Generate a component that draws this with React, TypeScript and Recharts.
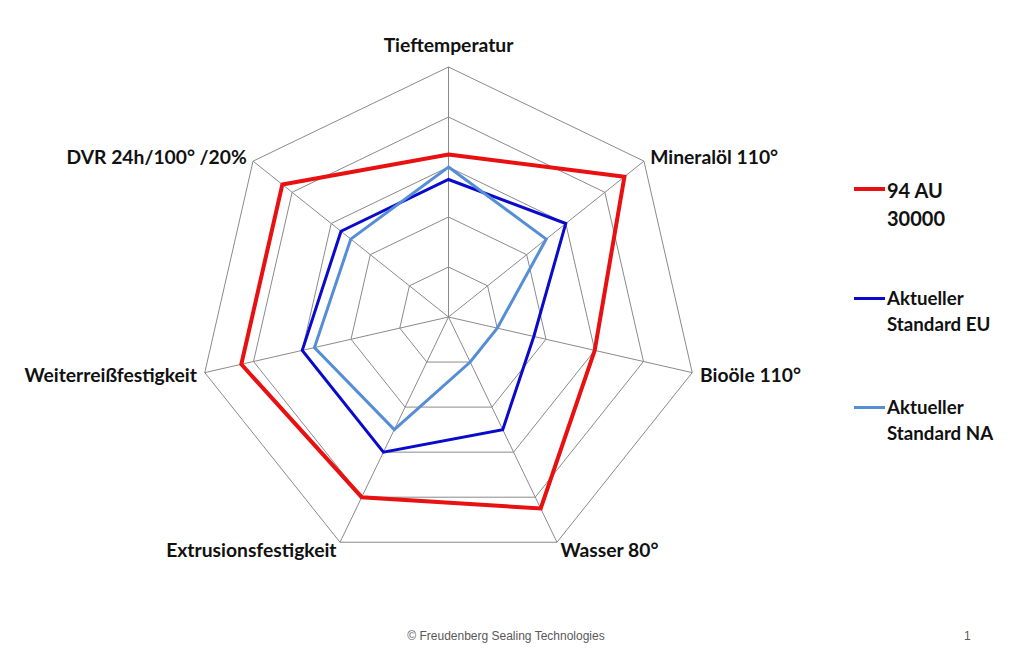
import { Legend, PolarAngleAxis, PolarGrid, PolarRadiusAxis, Radar, RadarChart } from "recharts";

const CATEGORIES = [
  "Tieftemperatur",
  "Mineralöl 110°",
  "Bioöle 110°",
  "Wasser 80°",
  "Extrusionsfestigkeit",
  "Weiterreißfestigkeit",
  "DVR 24h/100° /20%",
];

const AU_30000 = [3.25, 4.5, 3, 4.25, 4, 4.25, 4.25];
const STANDARD_EU = [2.75, 3, 1.75, 2.5, 3, 3, 2.75];
const STANDARD_NA = [3, 2.5, 1, 1, 2.5, 2.75, 2.5];

const SERIES = [
  { key: "au", name: "94 AU\n30000", values: AU_30000, color: "#E81010", width: 4, big: true },
  { key: "eu", name: "Aktueller\nStandard EU", values: STANDARD_EU, color: "#0A0ACC", width: 3, big: false },
  { key: "na", name: "Aktueller\nStandard NA", values: STANDARD_NA, color: "#558ED5", width: 3, big: false },
];

const data = CATEGORIES.map((name, i) => ({
  name,
  au: AU_30000[i],
  eu: STANDARD_EU[i],
  na: STANDARD_NA[i],
}));

const FONT = "Lato, 'Open Sans', sans-serif";

function AngleTick(props: any) {
  const { x, y, cy, textAnchor, payload } = props;
  const top = textAnchor === "middle" && y < cy;
  return (
    <text
      x={x}
      y={top ? y - 15 : y}
      textAnchor={textAnchor}
      dominantBaseline="central"
      fontFamily={FONT}
      fontWeight={700}
      fontSize={19.3}
      fill="#111"
    >
      {payload.value}
    </text>
  );
}

function LegendContent({ payload }: any) {
  return (
    <div style={{ fontFamily: FONT, fontWeight: 700, color: "#111" }}>
      {payload.map((entry: any) => {
        const s = SERIES.find((d) => d.key === entry.dataKey)!;
        const lines = String(entry.value).split("\n");
        return (
          <div key={s.key} style={{ height: 109, position: "relative" }}>
            <span
              style={{
                position: "absolute",
                left: 0,
                top: 13 - s.width / 2,
                width: 31,
                height: s.width,
                background: s.color,
              }}
            />
            <div
              style={{
                position: "absolute",
                left: 33,
                top: 0,
                fontSize: s.big ? 20 : 18.7,
                lineHeight: s.big ? "28px" : "26px",
                whiteSpace: "nowrap",
              }}
            >
              {lines.map((l) => (
                <div key={l}>{l}</div>
              ))}
            </div>
          </div>
        );
      })}
    </div>
  );
}

export default function App() {
  return (
    <div style={{ position: "absolute", left: 0, top: 0, width: 1024, height: 666, background: "#fff" }}>
      <RadarChart
        width={1024}
        height={666}
        data={data}
        cx={448.5}
        cy={317}
        outerRadius={250}
        margin={{ top: 0, right: 0, bottom: 0, left: 0 }}
      >
        <PolarGrid gridType="polygon" stroke="#8a8a8a" strokeWidth={1} />
        <PolarAngleAxis dataKey="name" tick={<AngleTick />} tickLine={false} axisLine={false} />
        <PolarRadiusAxis domain={[0, 5]} tickCount={6} tick={false} axisLine={false} />
        {SERIES.map((s) => (
          <Radar
            key={s.key}
            dataKey={s.key}
            name={s.name}
            stroke={s.color}
            strokeWidth={s.width}
            strokeLinejoin="miter"
            fill="none"
            fillOpacity={0}
            dot={false}
            isAnimationActive={false}
          />
        ))}
        <Legend
          layout="vertical"
          verticalAlign="top"
          align="left"
          wrapperStyle={{ left: 854, top: 176, width: 170 }}
          content={<LegendContent />}
        />
      </RadarChart>
      <div
        style={{
          position: "absolute",
          left: 0,
          width: 1012,
          top: 629,
          textAlign: "center",
          fontFamily: "'Liberation Sans', Arial, sans-serif",
          fontSize: 12,
          color: "#595959",
        }}
      >
        © Freudenberg Sealing Technologies
      </div>
      <div
        style={{
          position: "absolute",
          left: 964,
          top: 629,
          fontFamily: "'Liberation Sans', Arial, sans-serif",
          fontSize: 12,
          color: "#595959",
        }}
      >
        1
      </div>
    </div>
  );
}
